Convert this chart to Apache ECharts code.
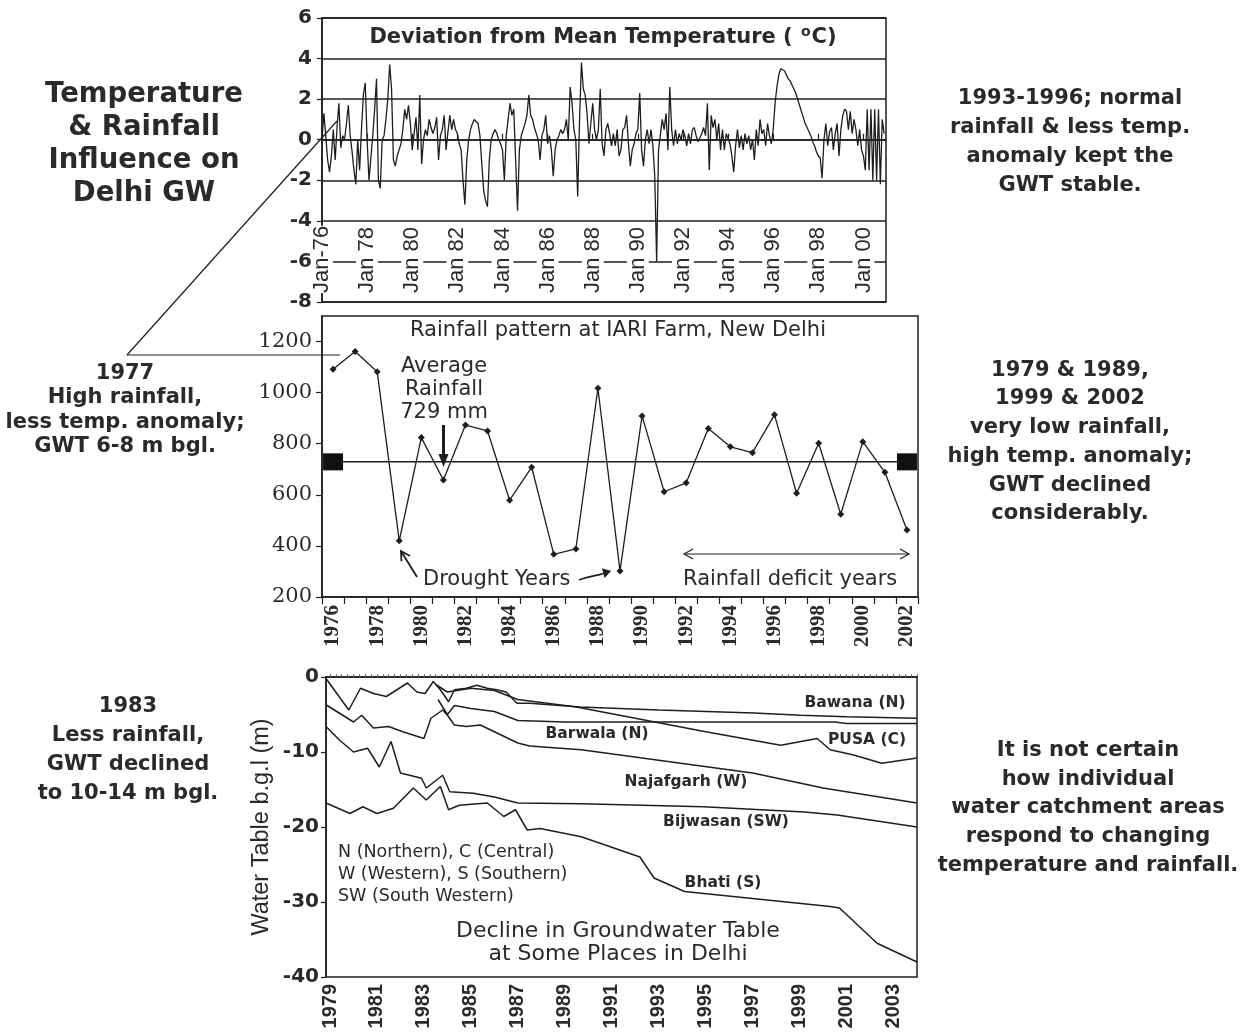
<!DOCTYPE html>
<html><head><meta charset="utf-8">
<script src="https://cdn.jsdelivr.net/npm/echarts@6/dist/echarts.min.js"></script>
<style>html,body{margin:0;padding:0;background:#fff}#c{width:1245px;height:1036px}</style>
</head><body><div id="c"></div>
<script>
// ---------- DATA ----------
const tempStartYear = 1976; // monthly values from Jan 1976
const tempDev = [
 0.0, 1.3, 0.2,-1.0,-1.6,-0.8, 0.5,-1.0, 0.6, 1.8,-0.4, 0.2,
 0.0, 0.8, 1.7, 0.2,-0.6,-1.5,-2.2, 0.0,-1.5, 0.5, 2.2, 2.8,
 0.0,-2.0,-2.0, 0.2, 1.5, 3.0,-2.0,-2.4, 0.0, 0.2, 1.0, 2.0,
 3.7, 2.5,-1.0,-1.3,-0.8,-0.5,-0.2, 0.5, 1.5, 1.0, 1.7, 0.8,
-0.5, 0.3, 1.1,-0.5, 2.2,-1.2, 0.0, 0.5, 0.2, 1.0, 0.6, 0.3,
 0.6, 1.1,-1.0, 0.2, 0.5, 1.2,-0.5, 0.4, 1.2, 0.5, 1.0, 0.5,
 0.3,-0.2,-0.5,-2.0,-3.2,-1.0, 0.0, 0.5, 0.8, 1.0, 0.9, 0.8,
 0.2,-1.2,-2.5,-3.0,-3.3,-1.0, 0.0, 0.3, 0.5, 0.3, 0.0,-0.2,
-0.5,-2.0, 0.2, 1.0, 1.8, 1.2, 1.5,-1.0,-3.5,-0.5, 0.2, 0.5,
 0.8, 1.2, 2.2, 1.2, 1.0, 0.6, 0.3, 0.0,-1.0, 0.2, 0.5, 1.2,
-0.2, 0.2,-0.5,-1.8,-0.5, 0.0, 0.2, 0.5, 0.3, 0.5, 1.0, 0.0,
 2.6, 1.8, 0.5, 0.0,-2.8, 1.0, 3.8, 2.5, 2.2, 1.3,-0.2, 0.8,
 1.8, 0.5, 0.0, 0.5, 2.5,-0.2,-0.8, 0.5, 0.8, 0.3,-0.3, 0.3,
-0.3, 0.5,-0.8,-0.5, 0.5, 0.6, 1.2,-0.2,-1.3,-0.5,-0.2, 0.3,
 0.5, 2.3,-0.5,-1.3, 0.0, 0.5,-0.2, 0.5,-0.3,-1.8,-6.0,-0.5,
-0.5, 1.0, 0.5, 1.3,-0.5, 2.6, 0.5,-0.3, 0.5,-0.2, 0.3, 0.0,
 0.5, 0.2,-0.3, 0.3,-0.2, 0.5, 0.6, 0.2,-0.1, 0.1, 0.3, 0.6,
 0.2, 1.8,-1.5, 1.2, 0.6, 1.0, 0.0, 0.8,-0.5, 0.5,-0.5, 0.3,
 0.3,-0.2,-0.8,-1.6,-0.3, 0.5,-0.4, 0.2,-0.5, 0.3,-0.2, 0.2,
-0.5, 0.0,-1.0, 0.5,-0.3, 1.0, 0.3, 0.5,-0.3, 0.8, 0.2,-0.2,
 0.5, 1.8, 2.6, 3.2, 3.5, 3.5, 3.4, 3.2, 3.0, 2.9, 2.7, 2.5,
 2.3, 2.0, 1.7, 1.4, 1.1, 0.8, 0.6, 0.4, 0.2,-0.1,-0.3,-0.6,
-0.8,-0.9,-1.9, 0.0, 0.8,-0.3, 0.4, 0.6,-0.5, 0.3, 0.8,-0.8,
 0.5, 1.2, 1.5, 1.4, 0.5, 1.4, 0.3, 1.0, 0.5,-0.3, 0.5,-0.5,
-0.8,-1.5, 1.5,-1.5, 1.5,-2.0, 1.5,-2.0, 1.5,-2.2, 1.0, 0.3
];
const tempTickLabels = ['Jan-76','Jan 78','Jan 80','Jan 82','Jan 84','Jan 86','Jan 88','Jan 90','Jan 92','Jan 94','Jan 96','Jan 98','Jan 00'];

const rainYears = ['1976','1977','1978','1979','1980','1981','1982','1983','1984','1985','1986','1987','1988','1989',
  '1990','1991','1992','1993','1994','1995','1996','1997','1998','1999','2000','2001','2002'];
const rainfall = [1092,1161,1082,420,824,658,873,850,579,708,367,388,1017,302,
  909,612,647,860,788,765,913,606,802,524,808,688,462];
const avgRain = 729;
const rainTicks = [200,400,600,800,1000,1200];

const gwLabelYears = [1979,1981,1983,1985,1987,1989,1991,1993,1995,1997,1999,2001,2003];
const bawana = [[1978.83,-0.2],[1979.8,-4.4],[1980.3,-1.5],[1980.85,-2.2],[1981.4,-2.6],[1981.85,-1.7],[1982.3,-0.8],
  [1982.7,-2.0],[1983.05,-2.2],[1983.4,-0.6],[1983.7,-1.7],[1984.05,-3.3],[1984.3,-1.7],[1984.8,-1.5],[1985.25,-1.1],
  [1985.7,-1.5],[1986.1,-1.7],[1986.5,-2.0],[1986.96,-3.5],[1987.5,-3.5],[1989.66,-4.0],[1993,-4.4],[1997.05,-4.8],
  [1999.05,-5.1],[2001,-5.3],[2004,-5.5]];
const barwala = [[1983.6,-3.0],[1984.0,-5.0],[1984.3,-3.8],[1985,-4.2],[1986,-4.6],[1987,-5.8],[1989,-6.0],
  [2000.5,-6.0],[2001,-6.2],[2004,-6.2]];
const pusa = [[1983.5,-1.0],[1984.0,-2.0],[1985,-1.5],[1986,-1.8],[1987,-3.0],[1989.5,-4.0],[1992,-5.5],[1995,-7.3],
  [1998.2,-9.1],[1999.75,-8.2],[2000.3,-9.7],[2001.3,-10.4],[2002.5,-11.5],[2004,-10.8]];
const najafgarh = [[1978.83,-3.7],[1980,-6.0],[1980.35,-5.1],[1980.85,-6.8],[1981.5,-6.6],[1982.1,-7.3],[1983.0,-8.2],
  [1983.3,-5.5],[1983.8,-4.4],[1984.0,-5.1],[1984.3,-6.4],[1984.8,-6.6],[1985.4,-6.4],[1986.0,-7.3],[1987.0,-8.8],
  [1987.5,-9.2],[1989.7,-9.7],[1997,-12.8],[2000,-14.8],[2004,-16.8]];
const bijwasan = [[1978.83,-6.6],[1979.4,-8.4],[1980.0,-10.0],[1980.6,-9.5],[1981.1,-12.0],[1981.6,-8.6],[1982.0,-12.8],
  [1982.9,-13.5],[1983.1,-14.8],[1983.8,-13.1],[1984.1,-15.3],[1985.1,-15.5],[1986.0,-16.0],[1987.0,-16.8],
  [1989.7,-16.9],[1994.9,-17.3],[1999.2,-18.0],[2000.6,-18.4],[2004,-20.0]];
const bhati = [[1978.83,-16.8],[1979.85,-18.2],[1980.4,-17.3],[1981.0,-18.2],[1981.7,-17.5],[1982.55,-14.8],
  [1983.1,-16.4],[1983.7,-14.6],[1984.05,-17.7],[1984.5,-17.1],[1985.7,-16.8],[1986.4,-18.6],[1986.9,-17.7],
  [1987.4,-20.4],[1987.95,-20.2],[1989.7,-21.3],[1992.2,-24.0],[1992.8,-26.8],[1994.1,-28.6],[2000.3,-30.6],
  [2000.7,-30.8],[2002.3,-35.5],[2004,-38.0]];

// ---------- STYLE ----------
const INK = '#1e1e1e';
const TXT = '#2a2a2a';
const SANS = 'DejaVu Sans';

const tempData = tempDev.map((v, i) => [tempStartYear + i / 12, v]);
const quarterTicks = [];
for (let y = 1979; y <= 2004; y += 0.25) quarterTicks.push(y);

function axisLineStyle() { return { show: true, lineStyle: { color: INK, width: 1.5 } }; }

function txt(x, y, text, size, weight, opts) {
  opts = opts || {};
  return {
    type: 'text', x: x, y: y, z: 20, rotation: opts.rotation || 0,
    style: {
      text: text, fontSize: size, fontFamily: opts.family || SANS, fontWeight: weight,
      fill: opts.color || TXT, align: opts.align || 'center', verticalAlign: 'middle',
      textAlign: opts.align || 'center', textVerticalAlign: 'middle',
      lineHeight: opts.lh || size * 1.2, rich: opts.rich
    }
  };
}
function line(x1, y1, x2, y2, w) {
  return { type: 'line', z: 20, shape: { x1, y1, x2, y2 }, style: { stroke: INK, lineWidth: w || 1.3 } };
}
function head(x1, y1, x2, y2, len, hw, filled, w) {
  const a = Math.atan2(y2 - y1, x2 - x1);
  const bx = x2 - len * Math.cos(a), by = y2 - len * Math.sin(a);
  const px = -Math.sin(a), py = Math.cos(a);
  const p1 = [bx + px * hw, by + py * hw], p2 = [bx - px * hw, by - py * hw];
  if (filled) return { type: 'polygon', z: 20, shape: { points: [[x2, y2], p1, p2] }, style: { fill: INK } };
  return { type: 'polyline', z: 20, shape: { points: [p1, [x2, y2], p2] }, style: { stroke: INK, lineWidth: w || 1.5, fill: null } };
}

const chart = echarts.init(document.getElementById('c'));

const option = {
  animation: false,
  backgroundColor: '#fff',
  grid: [
    { left: 322, top: 18, width: 564, height: 284, show: true, borderColor: INK, borderWidth: 1.5 },
    { left: 322, top: 316, width: 596, height: 281, show: true, borderColor: INK, borderWidth: 1.5 },
    { left: 326, top: 677, width: 591, height: 300, show: true, borderColor: INK, borderWidth: 1.5 }
  ],
  xAxis: [
    { gridIndex: 0, type: 'value', min: 1976, max: 2001, interval: 2, z: 3,
      axisLine: axisLineStyle(),
      axisTick: { show: true, inside: true, length: 6, lineStyle: { color: INK, width: 1.2 } },
      axisLabel: { inside: true, rotate: 90, margin: 9, showMaxLabel: false,
        formatter: v => { const k = Math.round((v - 1976) / 2); return tempTickLabels[k] || ''; },
        fontFamily: 'Liberation Sans', fontSize: 22, color: TXT, backgroundColor: '#fff', padding: 0 },
      splitLine: { show: false } },
    { gridIndex: 1, type: 'category', data: rainYears, boundaryGap: true,
      axisLine: axisLineStyle(),
      axisTick: { show: true, interval: 0, length: 7, lineStyle: { color: INK, width: 1.2 } },
      axisLabel: { interval: 1, rotate: 90, margin: 8, fontFamily: 'Liberation Serif', fontWeight: 'bold', fontSize: 21, color: TXT } },
    { gridIndex: 2, type: 'value', min: 1978.83, max: 2004.0,
      axisLine: axisLineStyle(),
      axisTick: { show: true, inside: true, length: 3, customValues: quarterTicks, lineStyle: { color: '#555', width: 0.8 } },
      axisLabel: { customValues: gwLabelYears, rotate: 90, margin: 7, formatter: v => String(Math.round(v)),
        fontFamily: 'Liberation Sans', fontWeight: 'bold', fontSize: 20, color: TXT },
      splitLine: { show: false } }
  ],
  yAxis: [
    { gridIndex: 0, type: 'value', min: -8, max: 6, interval: 2, z: 0,
      axisLine: axisLineStyle(),
      axisTick: { show: true, length: 5, lineStyle: { color: INK, width: 1.2 } },
      axisLabel: { fontFamily: SANS, fontWeight: 'bold', fontSize: 20, color: TXT, margin: 10 },
      splitLine: { show: true, lineStyle: { color: INK, width: 1.5 } } },
    { gridIndex: 1, type: 'value', min: 200, max: 1300, interval: 200,
      axisLine: axisLineStyle(),
      axisTick: { show: true, length: 6, customValues: rainTicks, lineStyle: { color: INK, width: 1.2 } },
      axisLabel: { customValues: rainTicks, formatter: v => String(v), fontFamily: 'DejaVu Serif', fontSize: 21, color: TXT, margin: 10 },
      splitLine: { show: false } },
    { gridIndex: 2, type: 'value', min: -40, max: 0, interval: 10,
      axisLine: axisLineStyle(),
      axisTick: { show: true, length: 5, lineStyle: { color: INK, width: 1.2 } },
      axisLabel: { fontFamily: SANS, fontWeight: 'bold', fontSize: 20, color: TXT, margin: 7 },
      splitLine: { show: false } }
  ],
  series: [
    { name: 'Temperature deviation', type: 'line', xAxisIndex: 0, yAxisIndex: 0, data: tempData,
      showSymbol: false, lineStyle: { color: INK, width: 1.3 }, z: 2 },
    { name: 'Rainfall', type: 'line', xAxisIndex: 1, yAxisIndex: 1, data: rainfall,
      symbol: 'diamond', symbolSize: 7, itemStyle: { color: INK }, lineStyle: { color: INK, width: 1.3 } },
    { name: 'Average', type: 'line', xAxisIndex: 1, yAxisIndex: 1,
      data: [[rainYears[0], avgRain], [rainYears[rainYears.length - 1], avgRain]],
      symbol: 'rect', symbolSize: [20, 17], itemStyle: { color: '#111' }, lineStyle: { color: INK, width: 1.5 } },
    { name: 'Bawana (N)', type: 'line', xAxisIndex: 2, yAxisIndex: 2, data: bawana, showSymbol: false, lineStyle: { color: INK, width: 1.5 } },
    { name: 'Barwala (N)', type: 'line', xAxisIndex: 2, yAxisIndex: 2, data: barwala, showSymbol: false, lineStyle: { color: INK, width: 1.5 } },
    { name: 'PUSA (C)', type: 'line', xAxisIndex: 2, yAxisIndex: 2, data: pusa, showSymbol: false, lineStyle: { color: INK, width: 1.5 } },
    { name: 'Najafgarh (W)', type: 'line', xAxisIndex: 2, yAxisIndex: 2, data: najafgarh, showSymbol: false, lineStyle: { color: INK, width: 1.5 } },
    { name: 'Bijwasan (SW)', type: 'line', xAxisIndex: 2, yAxisIndex: 2, data: bijwasan, showSymbol: false, lineStyle: { color: INK, width: 1.5 } },
    { name: 'Bhati (S)', type: 'line', xAxisIndex: 2, yAxisIndex: 2, data: bhati, showSymbol: false, lineStyle: { color: INK, width: 1.5 } }
  ],
  graphic: { elements: [
    // left headline
    txt(144, 144, 'Temperature\n& Rainfall\nInfluence on\nDelhi GW', 27.5, 'bold', { lh: 33 }),
    // connector lines
    line(127, 355, 337, 121, 1.2),
    line(127, 355, 340, 355, 1.2),
    txt(125, 410, '1977\nHigh rainfall,\nless temp. anomaly;\nGWT 6-8 m bgl.', 21, 'bold', { lh: 24.5 }),
    txt(128, 750, '1983\nLess rainfall,\nGWT declined\nto 10-14 m bgl.', 21, 'bold', { lh: 29 }),
    txt(1070, 142, '1993-1996; normal\nrainfall & less temp.\nanomaly kept the\nGWT stable.', 21, 'bold', { lh: 29 }),
    txt(1070, 442, '1979 & 1989,\n1999 & 2002\nvery low rainfall,\nhigh temp. anomaly;\nGWT declined\nconsiderably.', 21, 'bold', { lh: 28.7 }),
    txt(1088, 808, 'It is not certain\nhow individual\nwater catchment areas\nrespond to changing\ntemperature and rainfall.', 21, 'bold', { lh: 28.6 }),
    // panel titles
    txt(603, 38, 'Deviation from Mean Temperature ( {s|o}C)', 21, 'bold',
      { rich: { s: { fontSize: 14, fontFamily: SANS, fontWeight: 'bold', fill: TXT, verticalAlign: 'top', padding: [0, 1, 8, 1] } } }),
    txt(618, 331, 'Rainfall pattern at IARI Farm, New Delhi', 21, 'normal'),
    // average annotation
    txt(444, 390, 'Average\nRainfall\n729 mm', 21, 'normal', { lh: 23 }),
    { type: 'line', z: 20, shape: { x1: 443.5, y1: 425, x2: 443.5, y2: 455 }, style: { stroke: INK, lineWidth: 3 } },
    head(443.5, 425, 443.5, 467, 13, 5, true),
    // drought years
    txt(423, 580, 'Drought Years', 21, 'normal', { align: 'left' }),
    line(417, 577, 401, 551, 1.8),
    head(417, 577, 401, 551, 9, 5, false, 1.8),
    { type: 'bezierCurve', z: 20, shape: { x1: 579, y1: 580, x2: 610, y2: 571, cpx1: 592, cpy1: 575, cpx2: 600, cpy2: 576 }, style: { stroke: INK, lineWidth: 1.8, fill: null } },
    head(600, 574, 611, 571, 8, 5, true),
    // rainfall deficit
    txt(683, 580, 'Rainfall deficit years', 21, 'normal', { align: 'left' }),
    line(684, 554, 909, 554, 1.2),
    head(700, 554, 684, 554, 9, 5, false, 1.2),
    head(893, 554, 909, 554, 9, 5, false, 1.2),
    // groundwater panel texts
    txt(262, 827, 'Water Table b.g.l (m)', 23.5, 'normal', { family: 'Liberation Sans', rotation: Math.PI / 2 }),
    txt(338, 874, 'N (Northern), C (Central)\nW (Western), S (Southern)\nSW (South Western)', 17.5, 'normal', { align: 'left', lh: 22 }),
    txt(618, 943, 'Decline in Groundwater Table\nat Some Places in Delhi', 22, 'normal', { lh: 23.5 }),
    txt(855, 703, 'Bawana (N)', 15.5, 'bold'),
    txt(867, 740, 'PUSA (C)', 15.5, 'bold'),
    txt(597, 734, 'Barwala (N)', 15.5, 'bold'),
    txt(686, 782, 'Najafgarh (W)', 15.5, 'bold'),
    txt(726, 822, 'Bijwasan (SW)', 15.5, 'bold'),
    txt(723, 883, 'Bhati (S)', 15.5, 'bold')
  ] }
};
chart.setOption(option);
</script></body></html>
